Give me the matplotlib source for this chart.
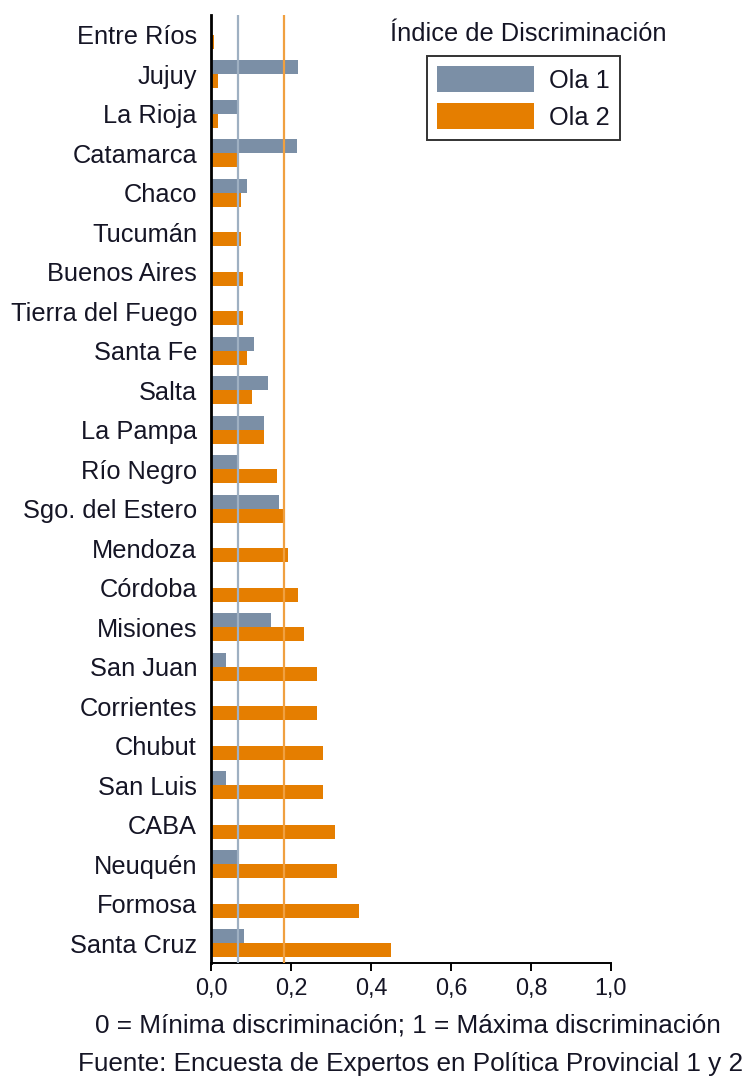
import matplotlib.pyplot as plt
import numpy as np

# datos
provincias = ["Entre Ríos", "Jujuy", "La Rioja", "Catamarca", "Chaco", "Tucumán",
              "Buenos Aires", "Tierra del Fuego", "Santa Fe", "Salta", "La Pampa",
              "Río Negro", "Sgo. del Estero", "Mendoza", "Córdoba", "Misiones",
              "San Juan", "Corrientes", "Chubut", "San Luis", "CABA", "Neuquén",
              "Formosa", "Santa Cruz"]
ola1 = [0.0, 0.218, 0.065, 0.215, 0.09, 0.0, 0.0, 0.0, 0.108, 0.143, 0.133,
        0.067, 0.17, 0.0, 0.0, 0.15, 0.038, 0.0, 0.0, 0.038, 0.0, 0.067,
        0.0, 0.083]
ola2 = [0.008, 0.018, 0.018, 0.068, 0.075, 0.075, 0.08, 0.08, 0.09, 0.103, 0.133,
        0.165, 0.18, 0.193, 0.218, 0.233, 0.265, 0.265, 0.28, 0.28, 0.31, 0.315,
        0.37, 0.45]
media_ola1 = 0.0675
media_ola2 = 0.1825
xticks = [0.0, 0.2, 0.4, 0.6, 0.8, 1.0]

azul = "#7b8fa6"
naranja = "#e57e00"
texto = "#151525"

plt.rcParams['font.family'] = ['Liberation Sans', 'DejaVu Sans']

W, H = 748, 1081
fig = plt.figure(figsize=(W / 100, H / 100), dpi=100)
ax = fig.add_axes([211 / W, 1 - 963 / H, 400 / W, 948 / H])

y = np.arange(len(provincias))
h = 0.355
ax.barh(y - h / 2, ola1, height=h, color=azul, label="Ola 1", zorder=2)
ax.barh(y + h / 2, ola2, height=h, color=naranja, label="Ola 2", zorder=2)
ax.axvline(media_ola1, color="#9fb0c2", lw=1.6, zorder=3)
ax.axvline(media_ola2, color="#f0a040", lw=1.6, zorder=3)

ax.set_xlim(0, 1.0)
ax.set_ylim(len(provincias) - 0.5, -0.5)
ax.set_yticks(y)
ax.set_yticklabels(provincias, fontsize=18.3, color=texto)
ax.set_xticks(xticks)
ax.set_xticklabels([f"{v:.1f}".replace(".", ",") for v in xticks], fontsize=16.8, color=texto)
ax.tick_params(axis='y', length=0, pad=10)
ax.tick_params(axis='x', length=6, width=1.4, direction='out', pad=4)

for s in ["top", "right"]:
    ax.spines[s].set_visible(False)
ax.spines["left"].set_linewidth(2.0)
ax.spines["bottom"].set_linewidth(1.4)
ax.spines["left"].set_zorder(4)

leg = ax.legend(loc="upper left", bbox_to_anchor=(427 / W, 1 - 56 / H),
                bbox_transform=fig.transFigure, fontsize=18.3, frameon=True,
                fancybox=False, handlelength=3.8, handleheight=1.2,
                labelspacing=0.4, handletextpad=0.6, borderpad=0.4, borderaxespad=0)
leg.get_frame().set_edgecolor("black")
leg.get_frame().set_linewidth(1.4)
for t in leg.get_texts():
    t.set_color(texto)

fig.text(528 / W, 1 - 34 / H, "Índice de Discriminación", fontsize=18.3,
         color=texto, ha="center", va="center")
fig.text(408 / W, 1 - 1026 / H, "0 = Mínima discriminación; 1 = Máxima discriminación",
         fontsize=18.8, color=texto, ha="center", va="center")
fig.text(411 / W, 1 - 1064 / H, "Fuente: Encuesta de Expertos en Política Provincial 1 y 2",
         fontsize=18.8, color=texto, ha="center", va="center")

fig.savefig("out.png", dpi=100)
